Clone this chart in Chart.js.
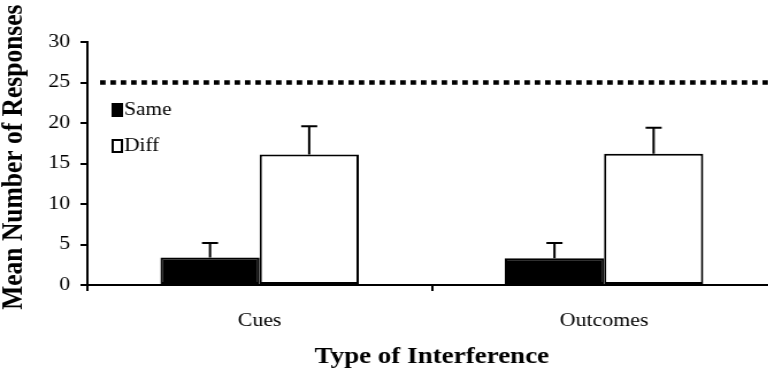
<!DOCTYPE html>
<html>
<head>
<meta charset="utf-8">
<script src="https://cdn.jsdelivr.net/npm/chart.js@4/dist/chart.umd.min.js"></script>
<style>
  html, body { margin: 0; padding: 0; background: #fff; overflow: hidden; width: 768px; height: 376px; }
  /* the original figure is a bit stretched sideways, so the canvas is too */
  #wrap { width: 675px; height: 376px; transform: scaleX(1.15); transform-origin: 0 0; }
</style>
</head>
<body>
<div id="wrap"><canvas id="chart" width="675" height="376"></canvas></div>
<script>
const categories = ["Cues", "Outcomes"];
const sameMeans = [3.4, 3.3];
const diffMeans = [16.1, 16.2];
const sameErr = [1.8, 1.9];
const diffErr = [3.5, 3.2];
const refLine = 25;
const yMin = 0;
const yMax = 30;
const yStep = 5;

const FONT = "'Liberation Serif', 'Times New Roman', serif";

// error bars, upward only
const errorBars = {
  id: "errorBars",
  afterDatasetsDraw(chart) {
    const ctx = chart.ctx;
    const y = chart.scales.y;
    ctx.save();
    ctx.strokeStyle = "#000";
    ctx.lineWidth = 2;
    chart.data.datasets.forEach((ds, i) => {
      const meta = chart.getDatasetMeta(i);
      meta.data.forEach((bar, j) => {
        const top = y.getPixelForValue(ds.data[j] + ds.err[j]);
        ctx.beginPath();
        ctx.moveTo(bar.x, bar.y);
        ctx.lineTo(bar.x, top);
        ctx.moveTo(bar.x - 7, top);
        ctx.lineTo(bar.x + 7, top);
        ctx.stroke();
      });
    });
    ctx.restore();
  }
};

// dotted reference line at 25
const dottedLine = {
  id: "dottedLine",
  afterDatasetsDraw(chart) {
    const ctx = chart.ctx;
    const area = chart.chartArea;
    const yy = chart.scales.y.getPixelForValue(refLine);
    ctx.save();
    ctx.strokeStyle = "#000";
    ctx.lineWidth = 4.5;
    ctx.setLineDash([4.8, 4.2]);
    ctx.beginPath();
    ctx.moveTo(area.left + 11, yy);
    ctx.lineTo(area.right, yy);
    ctx.stroke();
    ctx.restore();
  }
};

// legend inside the plot, stacked
const boxLegend = {
  id: "boxLegend",
  afterDraw(chart) {
    const ctx = chart.ctx;
    const area = chart.chartArea;
    ctx.save();
    ctx.font = "18.5px " + FONT;
    ctx.textBaseline = "middle";
    chart.data.datasets.forEach((ds, i) => {
      const x = area.left + 21;
      const cy = area.top + 68 + i * 36;
      ctx.fillStyle = ds.backgroundColor;
      ctx.fillRect(x, cy - 7, 10, 14);
      ctx.strokeStyle = "#000";
      ctx.lineWidth = 2;
      ctx.strokeRect(x + 1, cy - 6, 8, 12);
      ctx.fillStyle = "#000";
      ctx.fillText(ds.label, x + 11, cy);
    });
    ctx.restore();
  }
};

new Chart(document.getElementById("chart"), {
  type: "bar",
  data: {
    labels: categories,
    datasets: [
      {
        label: "Same",
        data: sameMeans,
        err: sameErr,
        backgroundColor: "#000",
        borderColor: "#000",
        borderWidth: 2,
        borderSkipped: false
      },
      {
        label: "Diff",
        data: diffMeans,
        err: diffErr,
        backgroundColor: "#fff",
        borderColor: "#000",
        borderWidth: 2,
        borderSkipped: false
      }
    ]
  },
  options: {
    responsive: false,
    animation: false,
    layout: { padding: { top: 42, right: 0, left: 0, bottom: 0 } },
    categoryPercentage: 0.576,
    barPercentage: 1,
    plugins: {
      legend: { display: false },
      tooltip: { enabled: false }
    },
    scales: {
      x: {
        grid: { drawOnChartArea: false, color: "#000", lineWidth: 2, tickLength: 6, offset: true },
        border: { color: "#000", width: 2 },
        ticks: { color: "#000", font: { family: FONT, size: 19 }, padding: 19 },
        title: {
          display: true,
          text: "Type of Interference",
          color: "#000",
          font: { family: FONT, size: 23.5, weight: "bold", lineHeight: 1 },
          padding: { top: 0, bottom: 7 }
        },
        afterFit(scale) { scale.height = 91; }
      },
      y: {
        min: yMin,
        max: yMax,
        grid: { drawOnChartArea: false, color: "#000", lineWidth: 2, tickLength: 6 },
        border: { color: "#000", width: 2 },
        ticks: { stepSize: yStep, color: "#000", font: { family: FONT, size: 19 }, padding: 9 },
        title: {
          display: true,
          // leading spaces nudge the centred title up a little, like the original
          text: "  Mean Number of Responses",
          color: "#000",
          font: { family: FONT, size: 25.5, weight: "bold", lineHeight: 1 },
          padding: 0
        },
        afterFit(scale) { scale.width = 76; }
      }
    }
  },
  plugins: [errorBars, dottedLine, boxLegend]
});
</script>
</body>
</html>
